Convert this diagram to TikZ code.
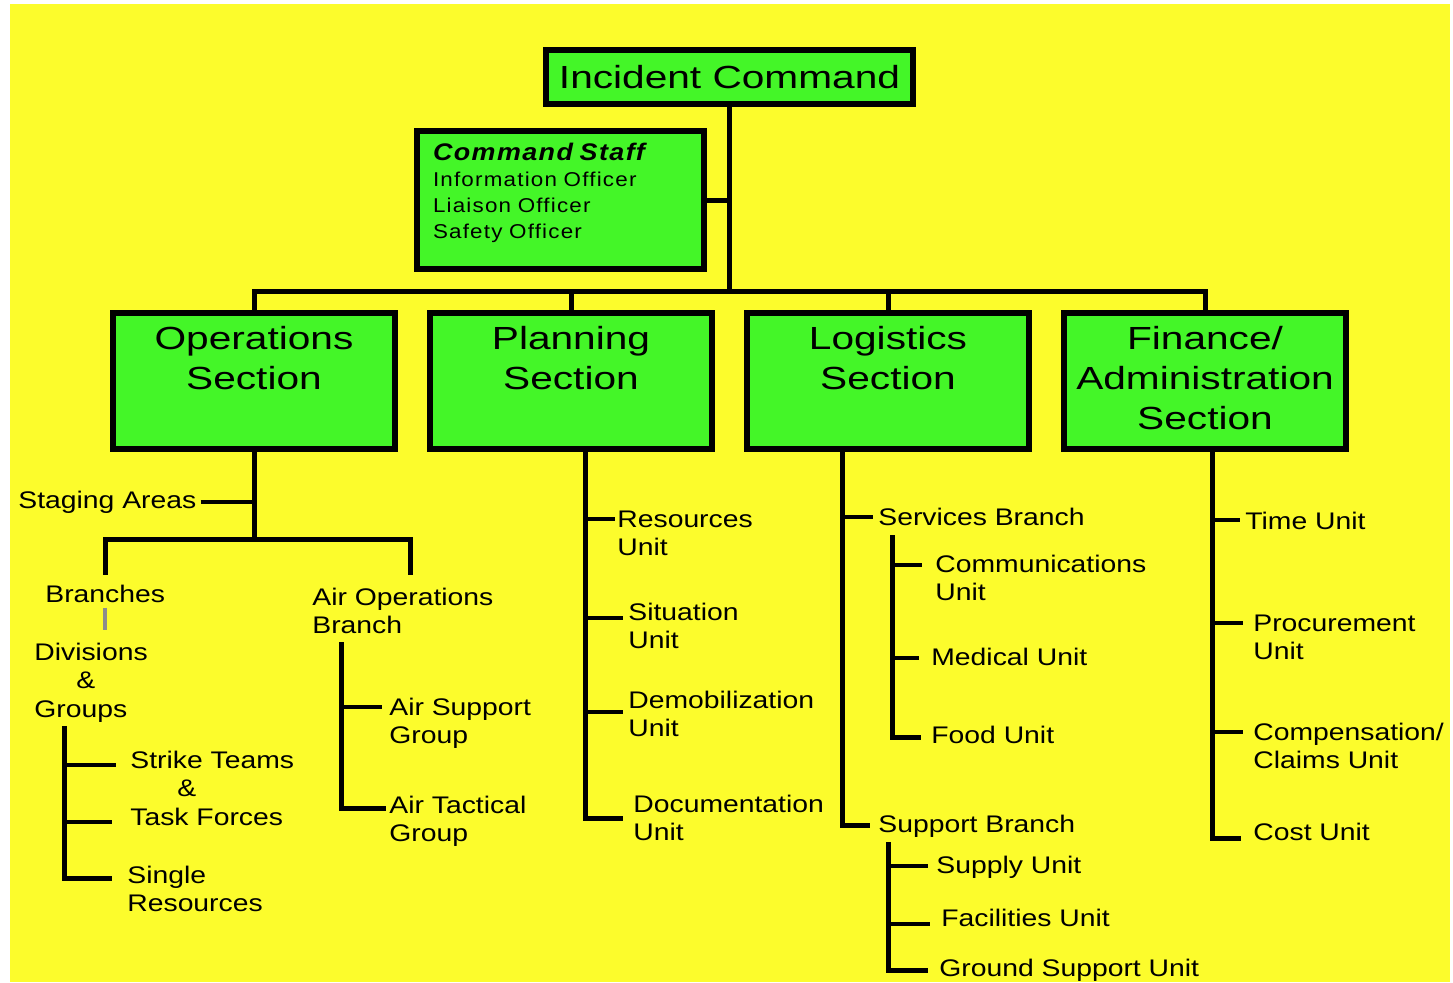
\documentclass[tikz,border=0pt]{standalone}
\usepackage{fontspec}
\setmainfont{Liberation Sans}
\newfontfamily\titlefont[FakeStretch=1.27]{Liberation Sans}
\newfontfamily\lblfont[FakeStretch=1.18]{Liberation Sans}
\newfontfamily\stafffont[FakeStretch=1.12,LetterSpace=6]{Liberation Sans}
\usetikzlibrary{positioning}
\definecolor{icsyellow}{RGB}{252,252,44}
\definecolor{icsgreen}{RGB}{68,246,40}
\tikzset{boxline/.style = {draw, line width=3pt, fill=icsgreen, inner sep=0pt},
	secbox/.style = {boxline, minimum width=141pt, minimum height=68pt, font=\titlefont\fontsize{16}{20}\selectfont},
	unitlbl/.style = {anchor=base west, inner sep=0pt, font=\lblfont\fontsize{12}{14.25}\selectfont},
	conline/.style = {line width=2.5pt},
	tickline/.style = {line width=2.2pt},
	grayline/.style = {line width=2pt, draw=black!45}}
\NewDocumentCommand{\stackl}{m}{\begin{tabular}[t]{@{}l@{}}#1\end{tabular}}
\NewDocumentCommand{\fsect}{m}{\begin{tabular}{@{}c@{}}#1\end{tabular}}
\NewDocumentCommand{\fpoint}{O{3pt} O{2pt} m}{%
	\coordinate (#3-t) at ([xshift=-#2,yshift=#1]#3.base west);
}
\NewDocumentCommand{\ftick}{O{3pt} O{2pt} m m}{%
	\fpoint[#1][#2]{#4}
	\draw[tickline] (#3 |- #4-t) -- (#4-t);
}
\begin{document}
\begin{tikzpicture}[x=0.5pt,y=-0.5pt]
\useasboundingbox (0,0) rectangle (1453,982);
\fill[icsyellow] (10,4) rectangle (1450,982);
% command
\node[boxline, minimum width=183.5pt, minimum height=27pt, font=\titlefont\fontsize{16}{20}\selectfont] (ic) at (729.5,77) {Incident Command};
\node[boxline, minimum height=69pt, text width=127.5pt, inner xsep=8pt, align=left, font=\stafffont\fontsize{10}{13}\selectfont] (staff) at (560.5,200)
	{\begin{tabular}{@{}l@{}}{\fontsize{12}{13}\selectfont\bfseries\itshape Command Staff}\\Information Officer\\Liaison Officer\\Safety Officer\\[6pt]\end{tabular}};
% sections
\node[secbox] (ops) at (254,381) {\fsect{Operations\\Section\\~}};
\node[secbox] (plan) at (571,381) {\fsect{Planning\\Section\\~}};
\node[secbox] (logi) at (888,381) {\fsect{Logistics\\Section\\~}};
\node[secbox] (fin) at (1205,381) {\fsect{Finance/\\Administration\\Section}};
\coordinate (hub) at ([yshift=-92pt]ic.south);
\draw[conline] (ic.south) -- (hub);
\draw[conline] (staff.east) -- (staff.east -| hub);
\draw[conline] (ops.north) |- (hub) -| (fin.north);
\draw[conline] (plan.north) -- (plan.north |- hub);
\draw[conline] (logi.north) -- (logi.north |- hub);
% units
\node[unitlbl] (stage) at (18,508) {Staging Areas};
\node[unitlbl] (brn) at (45,602) {Branches};
\node[unitlbl] (divg) at (34,660) {\stackl{Divisions\\\hspace{21pt}\&\\Groups}};
\node[unitlbl] (strike) at (130,768) {\stackl{Strike Teams\\\hspace{23.5pt}\&\\Task Forces}};
\node[unitlbl] (single) at (127,883) {\stackl{Single\\Resources}};
\node[unitlbl] (airop) at (312,605) {\stackl{Air Operations\\Branch}};
\node[unitlbl] (airsup) at (389,715) {\stackl{Air Support\\Group}};
\node[unitlbl] (airtac) at (389,813) {\stackl{Air Tactical\\Group}};
\node[unitlbl] (resu) at (617,527) {\stackl{Resources\\Unit}};
\node[unitlbl] (situ) at (628,620) {\stackl{Situation\\Unit}};
\node[unitlbl] (demob) at (628,708) {\stackl{Demobilization\\Unit}};
\node[unitlbl] (docu) at (633,812) {\stackl{Documentation\\Unit}};
\node[unitlbl] (serv) at (878,525) {Services Branch};
\node[unitlbl] (comm) at (935,572) {\stackl{Communications\\Unit}};
\node[unitlbl] (medic) at (931,665) {Medical Unit};
\node[unitlbl] (food) at (931,743) {Food Unit};
\node[unitlbl] (supp) at (878,832) {Support Branch};
\node[unitlbl] (supply) at (936,873) {Supply Unit};
\node[unitlbl] (facil) at (941,926) {Facilities Unit};
\node[unitlbl] (ground) at (939,976) {Ground Support Unit};
\node[unitlbl] (time) at (1245,529) {Time Unit};
\node[unitlbl] (procu) at (1253,631) {\stackl{Procurement\\Unit}};
\node[unitlbl] (comp) at (1253,740) {\stackl{Compensation/\\Claims Unit}};
\node[unitlbl] (cost) at (1253,840) {Cost Unit};
% operations
\coordinate (opsJ) at ([yshift=-43.5pt]ops.south);
\draw[conline] (ops.south) -- (opsJ);
\coordinate (stage-t) at ([xshift=2pt,yshift=3pt]stage.base east);
\draw[tickline] (stage-t) -- (stage-t -| ops.south);
\coordinate (brnD) at ([yshift=4.75pt]brn.north);
\coordinate (airD) at ([xshift=4pt,yshift=5pt]airop.north);
\draw[conline] (brnD) |- (opsJ) -| (airD);
\draw[grayline] ([yshift=-2.5pt]brn.south) -- ([yshift=5pt]brn.south |- divg.north);
\coordinate (grpT) at ([xshift=15pt]divg.south west);
\ftick[1.5pt][7pt]{grpT}{strike}
\ftick[-27pt][9pt]{grpT}{strike}
\fpoint[2.5pt][7.5pt]{single}
\draw[conline] (grpT) |- (single-t);
\coordinate (airT) at ([xshift=14.5pt]airop.south west);
\ftick[4pt][3.5pt]{airT}{airsup}
\fpoint[2.5pt][1.5pt]{airtac}
\draw[conline] (airT) |- (airtac-t);
% planning
\coordinate (planT) at ([xshift=7pt]plan.south);
\ftick[4pt][1pt]{planT}{resu}
\ftick[1pt][2.5pt]{planT}{situ}
\ftick[-2pt][2.5pt]{planT}{demob}
\fpoint[-3pt][5pt]{docu}
\draw[conline] (planT) |- (docu-t);
% logistics
\coordinate (logT) at ([xshift=-23pt]logi.south);
\ftick[4pt][2.5pt]{logT}{serv}
\fpoint[3.5pt][4pt]{supp}
\draw[conline] (logT) |- (supp-t);
\coordinate (servT) at ([xshift=7pt,yshift=-5pt]serv.base west);
\ftick[3.5pt][6.5pt]{servT}{comm}
\ftick[3.5pt][6pt]{servT}{medic}
\fpoint[3pt][5pt]{food}
\draw[conline] (servT) |- (food-t);
\coordinate (suppT) at ([xshift=5pt,yshift=-5pt]supp.base west);
\ftick[3.5pt][4pt]{suppT}{supply}
\ftick[1pt][5.5pt]{suppT}{facil}
\fpoint[3pt][5.5pt]{ground}
\draw[conline] (suppT) |- (ground-t);
% finance
\coordinate (finT) at ([xshift=3.5pt]fin.south);
\ftick[4.5pt][2.5pt]{finT}{time}
\ftick[4pt][5pt]{finT}{procu}
\ftick[4pt][5pt]{finT}{comp}
\fpoint[1pt][6pt]{cost}
\draw[conline] (finT) |- (cost-t);
\end{tikzpicture}
\end{document}
